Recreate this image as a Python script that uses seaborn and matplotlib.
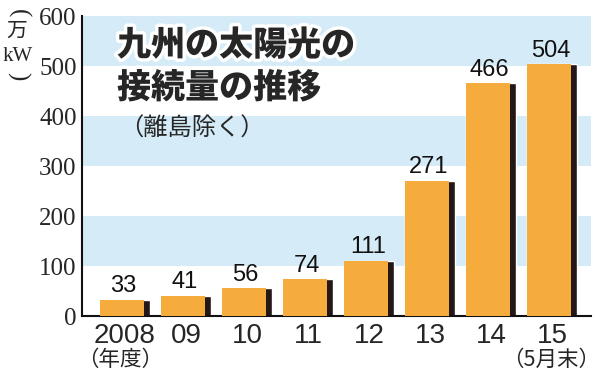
import numpy as np
import pandas as pd
import matplotlib.pyplot as plt
import matplotlib.patheffects as pe
import seaborn as sns

# Data
years = ["2008", "09", "10", "11", "12", "13", "14", "15"]
values = [33, 41, 56, 74, 111, 271, 466, 504]
yticks = [0, 100, 200, 300, 400, 500, 600]

df = pd.DataFrame({"year": years, "value": values})

ORANGE = "#F6AC3C"
SHADOW = "#231815"
BAND = "#D5ECF8"
CJK = "Noto Sans CJK JP"
SERIF = "Liberation Serif"

sns.set_style("white")
plt.rcParams["font.family"] = ["Liberation Sans", CJK]

fig = plt.figure(figsize=(6, 3.81), dpi=100)
ax = fig.add_axes([0.137, 0.17, 0.848, 0.788])

# alternating light blue bands
for lo in (100, 300, 500):
    ax.axhspan(lo, lo + 100, color=BAND, lw=0, zorder=0)

# dark shadow strip (full bar) then the orange face shifted left
sns.barplot(data=df, x="year", y="value", color=SHADOW, width=0.82,
            saturation=1, ax=ax, zorder=2)
x = np.arange(len(years))
ax.bar(x - 0.045, df["value"], width=0.73, color=ORANGE, lw=0, zorder=3)

for i, v in enumerate(values):
    ax.text(i - 0.02, v + 5, str(v), ha="center", va="bottom",
            fontsize=17, color="#111111", zorder=4)

ax.set_xlim(-0.7, len(years) - 0.36)
ax.set_ylim(0, 600)
ax.set_yticks(yticks)
ax.set_yticklabels([str(t) for t in yticks])
ax.set_xticks(x)
ax.set_xticklabels(years)
ax.tick_params(axis="y", direction="in", length=8, width=1.5, pad=4,
               labelsize=18, labelfontfamily=SERIF)
ax.tick_params(axis="x", length=0, pad=5, labelsize=20)
ax.set_xlabel("")
ax.set_ylabel("")

for side in ("top", "right"):
    ax.spines[side].set_visible(False)
for side in ("left", "bottom"):
    ax.spines[side].set_color("#111111")
    ax.spines[side].set_linewidth(1.5)

# title with white outline
stroke = [pe.withStroke(linewidth=5, foreground="white")]
fig.text(0.195, 0.882, "九州の太陽光の", fontsize=24.5, fontweight="black",
         family=CJK, va="center", ha="left", path_effects=stroke)
fig.text(0.195, 0.77, "接続量の推移", fontsize=24.5, fontweight="black",
         family=CJK, va="center", ha="left", path_effects=stroke)
fig.text(0.198, 0.662, "（離島除く）", fontsize=17.5,
         family=CJK, va="center", ha="left")

# unit label: 万kW between arcs
fig.text(0.03, 0.965, "(", fontsize=18, family=SERIF, rotation=-90,
         va="center", ha="center")
fig.text(0.028, 0.918, "万", fontsize=15, family=CJK, va="center", ha="center")
fig.text(0.03, 0.853, "kW", fontsize=15, family=SERIF,
         va="center", ha="center")
fig.text(0.03, 0.8, ")", fontsize=18, family=SERIF, rotation=-90,
         va="center", ha="center")

# notes under x labels
fig.text(0.2, 0.055, "（年度）", fontsize=15.5, family=CJK,
         va="center", ha="center")
fig.text(0.918, 0.055, "（5月末）", fontsize=15.5, family=CJK,
         va="center", ha="center")

fig.savefig("out.png", dpi=100)
